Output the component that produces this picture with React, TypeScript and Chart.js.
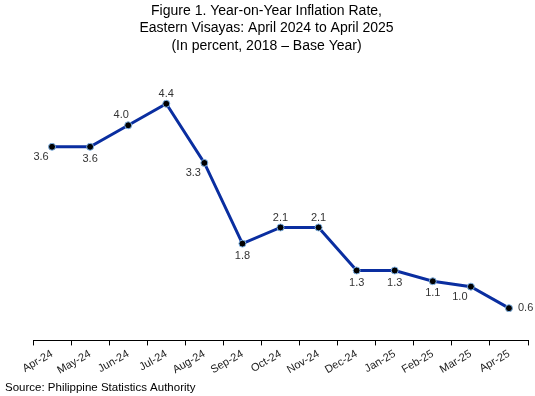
import React, { useEffect, useRef } from "react";
import { Chart, registerables } from "chart.js";

Chart.register(...registerables);

const categories = ["Apr-24", "May-24", "Jun-24", "Jul-24", "Aug-24", "Sep-24", "Oct-24", "Nov-24", "Dec-24", "Jan-25", "Feb-25", "Mar-25", "Apr-25"];
const inflation = [3.6, 3.6, 4.0, 4.4, 3.3, 1.8, 2.1, 2.1, 1.3, 1.3, 1.1, 1.0, 0.6];
const labelPlacement = ["bl", "b", "al", "a", "bl", "b", "a", "a", "b", "b", "b", "bl", "r"];
const titleLines = [
  "Figure 1. Year-on-Year Inflation Rate,",
  "Eastern Visayas: April 2024 to April 2025",
  "(In percent, 2018 \u2013 Base Year)",
];
const sourceText = "Source: Philippine Statistics Authority";

const FONT = "'Liberation Sans', Arial, sans-serif";

const valueLabels = {
  id: "valueLabels",
  afterDatasetsDraw(chart: any) {
    const ctx = chart.ctx;
    const meta = chart.getDatasetMeta(0);
    ctx.save();
    ctx.font = `11px ${FONT}`;
    ctx.fillStyle = "#333";
    ctx.textBaseline = "middle";
    meta.data.forEach((pt: any, i: number) => {
      const p = labelPlacement[i];
      let dx = 0, dy = 0;
      ctx.textAlign = "center";
      if (p === "a") { dy = -10; }
      else if (p === "b") { dy = 12; }
      else if (p === "al") { dx = -7; dy = -10; }
      else if (p === "bl") { dx = -11; dy = 10; }
      else if (p === "r") { dx = 9; ctx.textAlign = "left"; }
      ctx.fillText(inflation[i].toFixed(1), pt.x + dx, pt.y + dy);
    });
    ctx.restore();
  },
};

export default function App() {
  const ref = useRef<HTMLCanvasElement>(null);
  useEffect(() => {
    document.body.style.margin = "0";
    const chart = new Chart(ref.current!, {
      type: "line",
      data: {
        labels: categories,
        datasets: [
          {
            data: inflation,
            borderColor: "#0a2ea0",
            borderWidth: 3,
            pointBackgroundColor: "#000",
            pointBorderColor: "#7fb2e5",
            pointBorderWidth: 1,
            pointRadius: 3.5,
            tension: 0,
          },
        ],
      },
      options: {
        animation: false,
        responsive: true,
        maintainAspectRatio: false,
        layout: { padding: { left: 5, right: 7, top: 2, bottom: 1 } },
        plugins: {
          legend: { display: false },
          tooltip: { enabled: false },
          title: {
            display: true,
            text: titleLines,
            color: "#000",
            font: { family: FONT, size: 14, weight: "normal", lineHeight: 1.25 },
            padding: { top: 0, bottom: 17 },
          },
          subtitle: {
            display: true,
            position: "bottom",
            align: "start",
            text: sourceText,
            color: "#000",
            font: { family: FONT, size: 11.5, weight: "normal" },
            padding: { top: 2, bottom: 0 },
          },
        },
        scales: {
          x: {
            offset: true,
            grid: { offset: true, drawOnChartArea: false, drawTicks: true, tickLength: 5, color: "#000" },
            border: { display: true, color: "#000", width: 1 },
            ticks: { color: "#222", font: { family: FONT, size: 11 }, minRotation: 30, maxRotation: 30, padding: 2 },
          },
          y: {
            display: true,
            min: 0,
            max: 5,
            grid: { display: false, drawTicks: false },
            border: { display: false },
            ticks: { display: false },
            afterFit: (scale: any) => { scale.width = 28; },
          },
        },
      },
      plugins: [valueLabels],
    });
    return () => chart.destroy();
  }, []);
  return (
    <div style={{ width: 535, height: 396, position: "relative" }}>
      <canvas ref={ref} />
    </div>
  );
}
